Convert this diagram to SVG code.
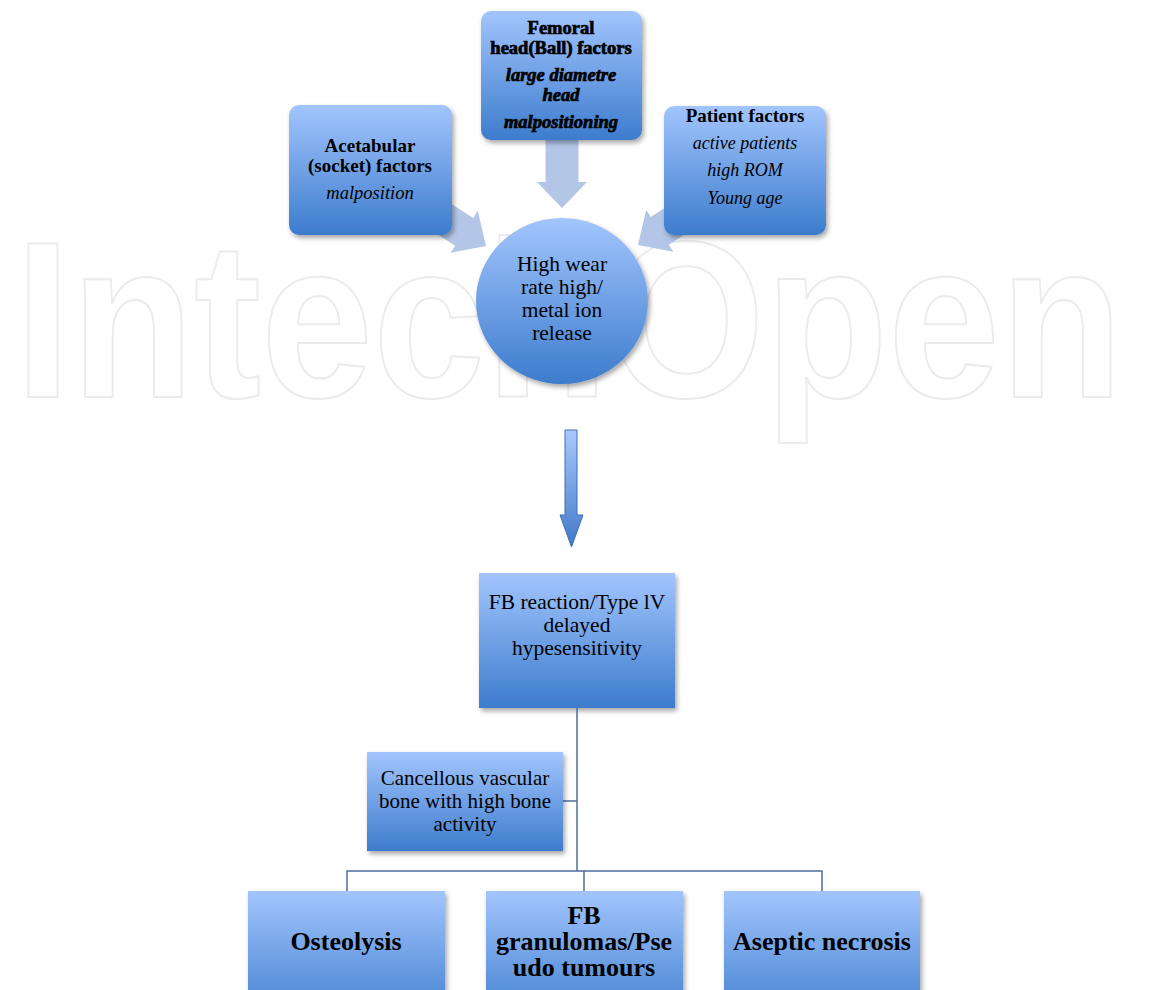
<svg xmlns="http://www.w3.org/2000/svg" width="1150" height="990" viewBox="0 0 1150 990">
<defs>
<linearGradient id="g" x1="0" y1="0" x2="0" y2="1">
<stop offset="0" stop-color="#a2c5fd"/>
<stop offset="1" stop-color="#3d7ccd"/>
</linearGradient>
<linearGradient id="ga" x1="0" y1="0" x2="0" y2="1">
<stop offset="0" stop-color="#a9c9fb"/>
<stop offset="1" stop-color="#4379c8"/>
</linearGradient>
<filter id="sh" x="-10%" y="-10%" width="125%" height="130%">
<feDropShadow dx="2" dy="3" stdDeviation="2.5" flood-color="#000" flood-opacity="0.35"/>
</filter>
</defs>
<style>
.box{fill:url(#g);filter:url(#sh);}
.t{font-family:"Liberation Serif","Times New Roman",serif;fill:#000;text-anchor:middle;}
.b{font-weight:bold;}
.i{font-style:italic;}
.hv{stroke:#000;stroke-width:0.7;}
.arr{fill:#b3c6e7;}
.ln{stroke:#4d6e9e;stroke-width:1.5;fill:none;}
.wm{font-family:"Liberation Sans",Arial,sans-serif;font-size:222px;font-weight:bold;fill:#fff;stroke:#ebebeb;stroke-width:2;}
</style>
<rect width="1150" height="990" fill="#fff"/>
<text class="wm" x="15" y="397" textLength="1108" lengthAdjust="spacingAndGlyphs">IntechOpen</text>

<g id="block-arrows">
<polygon class="arr" transform="translate(562,208) rotate(90)" points="-80,-16.5 -26,-16.5 -26,-25 0,0 -26,25 -26,16.5 -80,16.5"/>
<polygon class="arr" transform="translate(486,246) rotate(33)" points="-70,-16.5 -26,-16.5 -26,-25 0,0 -26,25 -26,16.5 -70,16.5"/>
<polygon class="arr" transform="translate(638,245) rotate(147)" points="-70,-16.5 -26,-16.5 -26,-25 0,0 -26,25 -26,16.5 -70,16.5"/>
</g>

<g id="acetabular">
<rect class="box" x="289" y="105" width="163" height="130" rx="10"/>
<text class="t b" x="370" y="152" font-size="19">Acetabular</text>
<text class="t b" x="370" y="172" font-size="19">(socket) factors</text>
<text class="t i" x="370" y="199" font-size="18.5">malposition</text>
</g>

<g id="femoral">
<rect class="box" x="481" y="11" width="161" height="129" rx="10"/>
<text class="t b hv" x="561" y="34" font-size="18.5">Femoral</text>
<text class="t b hv" x="561" y="54" font-size="18.5">head(Ball) factors</text>
<text class="t b i hv" x="561" y="81" font-size="18.5">large diametre</text>
<text class="t b i hv" x="561" y="101" font-size="18.5">head</text>
<text class="t b i hv" x="561" y="128" font-size="18.5">malpositioning</text>
</g>

<g id="patient">
<rect class="box" x="664" y="106" width="162" height="129" rx="10"/>
<text class="t b" x="745" y="122" font-size="19">Patient factors</text>
<text class="t i" x="745" y="149" font-size="18">active patients</text>
<text class="t i" x="745" y="176" font-size="18">high ROM</text>
<text class="t i" x="745" y="204" font-size="18">Young age</text>
</g>

<g id="wear">
<ellipse class="box" cx="562" cy="301" rx="86" ry="83"/>
<text class="t" x="562" y="271" font-size="21.5">High wear</text>
<text class="t" x="562" y="294" font-size="21.5">rate high/</text>
<text class="t" x="562" y="317" font-size="21.5">metal ion</text>
<text class="t" x="562" y="340" font-size="21.5">release</text>
</g>

<g id="down-arrow">
<polygon points="565,430 577,430 577,515 583,515 571.5,547 560,515 565,515" fill="url(#ga)" stroke="#3f6fb6" stroke-width="1"/>
</g>

<g id="fb-reaction">
<rect class="box" x="479" y="573" width="196" height="135"/>
<text class="t" x="577" y="609" font-size="21.5">FB reaction/Type lV</text>
<text class="t" x="577" y="632" font-size="21.5">delayed</text>
<text class="t" x="577" y="655" font-size="21.5">hypesensitivity</text>
</g>

<g id="connectors">
<line class="ln" x1="577" y1="708" x2="577" y2="871"/>
<line class="ln" x1="563" y1="801" x2="577" y2="801"/>
<polyline class="ln" points="347,891 347,871 822,871 822,891"/>
<line class="ln" x1="584" y1="871" x2="584" y2="891"/>
</g>

<g id="cancellous">
<rect class="box" x="367" y="752" width="196" height="99"/>
<text class="t" x="465" y="785" font-size="21">Cancellous vascular</text>
<text class="t" x="465" y="808" font-size="21">bone with high bone</text>
<text class="t" x="465" y="831" font-size="21">activity</text>
</g>

<g id="osteolysis">
<rect class="box" x="248" y="891" width="197" height="135"/>
<text class="t b" x="346" y="950" font-size="26">Osteolysis</text>
</g>

<g id="granulomas">
<rect class="box" x="486" y="891" width="197" height="135"/>
<text class="t b" x="584" y="924" font-size="26">FB</text>
<text class="t b" x="584" y="950" font-size="26">granulomas/Pse</text>
<text class="t b" x="584" y="976" font-size="26">udo tumours</text>
</g>

<g id="necrosis">
<rect class="box" x="724" y="891" width="196" height="135"/>
<text class="t b" x="822" y="950" font-size="26">Aseptic necrosis</text>
</g>
</svg>
